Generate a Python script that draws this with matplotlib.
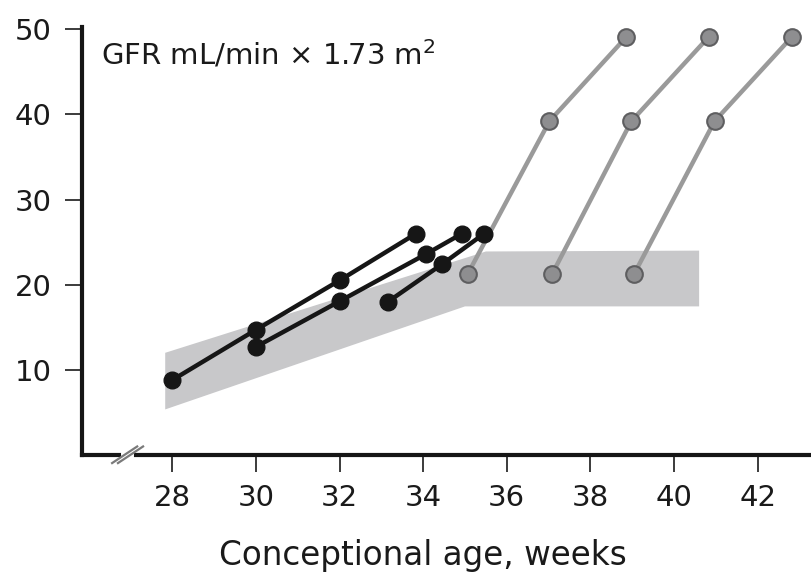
import matplotlib.pyplot as plt
from matplotlib.lines import Line2D

plt.rcParams['font.family'] = ['DejaVu Sans']

# preterm infants, serial measurements (black)
pre_x = [
    [28.0, 30.0, 32.0, 33.83],
    [30.0, 32.0, 34.07, 34.93],
    [33.16, 34.45, 35.46],
]
pre_y = [
    [8.8, 14.7, 20.5, 26.0],
    [12.7, 18.05, 23.6, 26.0],
    [18.0, 22.4, 26.0],
]

# term infants after birth (gray)
term_x = [
    [35.07, 37.02, 38.86],
    [37.09, 38.98, 40.83],
    [39.05, 40.97, 42.82],
]
term_y = [21.3, 39.2, 49.1]

# reference range band
band_x = [27.83, 35.5, 40.6, 40.6, 35.0, 27.83]
band_y = [12.0, 23.9, 24.0, 17.45, 17.45, 5.35]

xticks = [28, 30, 32, 34, 36, 38, 40, 42]
yticks = [10, 20, 30, 40, 50]

fig = plt.figure(figsize=(8.12, 5.76), dpi=100)
ax = fig.add_axes([0.1010, 0.2101, 0.8990, 0.7436])

ax.fill(band_x, band_y, color='#c8c8ca', lw=0, zorder=1)

for xs in term_x:
    ax.plot(xs, term_y, color='#9a9a9a', lw=3.2, zorder=2,
            marker='o', ms=12, mfc='#8e8e90', mec='#5e5e60', mew=1.5)

for xs, ys in zip(pre_x, pre_y):
    ax.plot(xs, ys, color='#161616', lw=3.2, zorder=3,
            marker='o', ms=12, mfc='#161616', mec='#161616')

ax.set_xlim(25.84, 43.3)
ax.set_ylim(0, 50.3)
ax.set_xticks(xticks)
ax.set_yticks(yticks)
ax.tick_params(labelsize=21, colors='#1a1a1a', width=1.2, length=12, pad=10)
ax.tick_params(axis='x', length=12, pad=9)

for s in ['top', 'right']:
    ax.spines[s].set_visible(False)
for s in ['left', 'bottom']:
    ax.spines[s].set_linewidth(3.0)
    ax.spines[s].set_color('#161616')

ax.set_xlabel('Conceptional age, weeks', fontsize=23.5, color='#1a1a1a', labelpad=19)
ax.xaxis.label.set_x(0.467)
ax.text(26.3, 45.8, 'GFR mL/min × 1.73 m$^2$', fontsize=21, color='#1a1a1a',
        va='baseline', ha='left', math_fontfamily='dejavusans')

# axis break marks
ax.add_line(Line2D([26.85, 26.98], [0, 0], color='white', lw=5, clip_on=False, zorder=4))
for dx in (-0.07, 0.07):
    ax.add_line(Line2D([26.63 + dx, 27.23 + dx], [-0.95, 1.0], color='#7a7a7a',
                       lw=1.6, clip_on=False, zorder=5))

fig.savefig('out.png', dpi=100)
